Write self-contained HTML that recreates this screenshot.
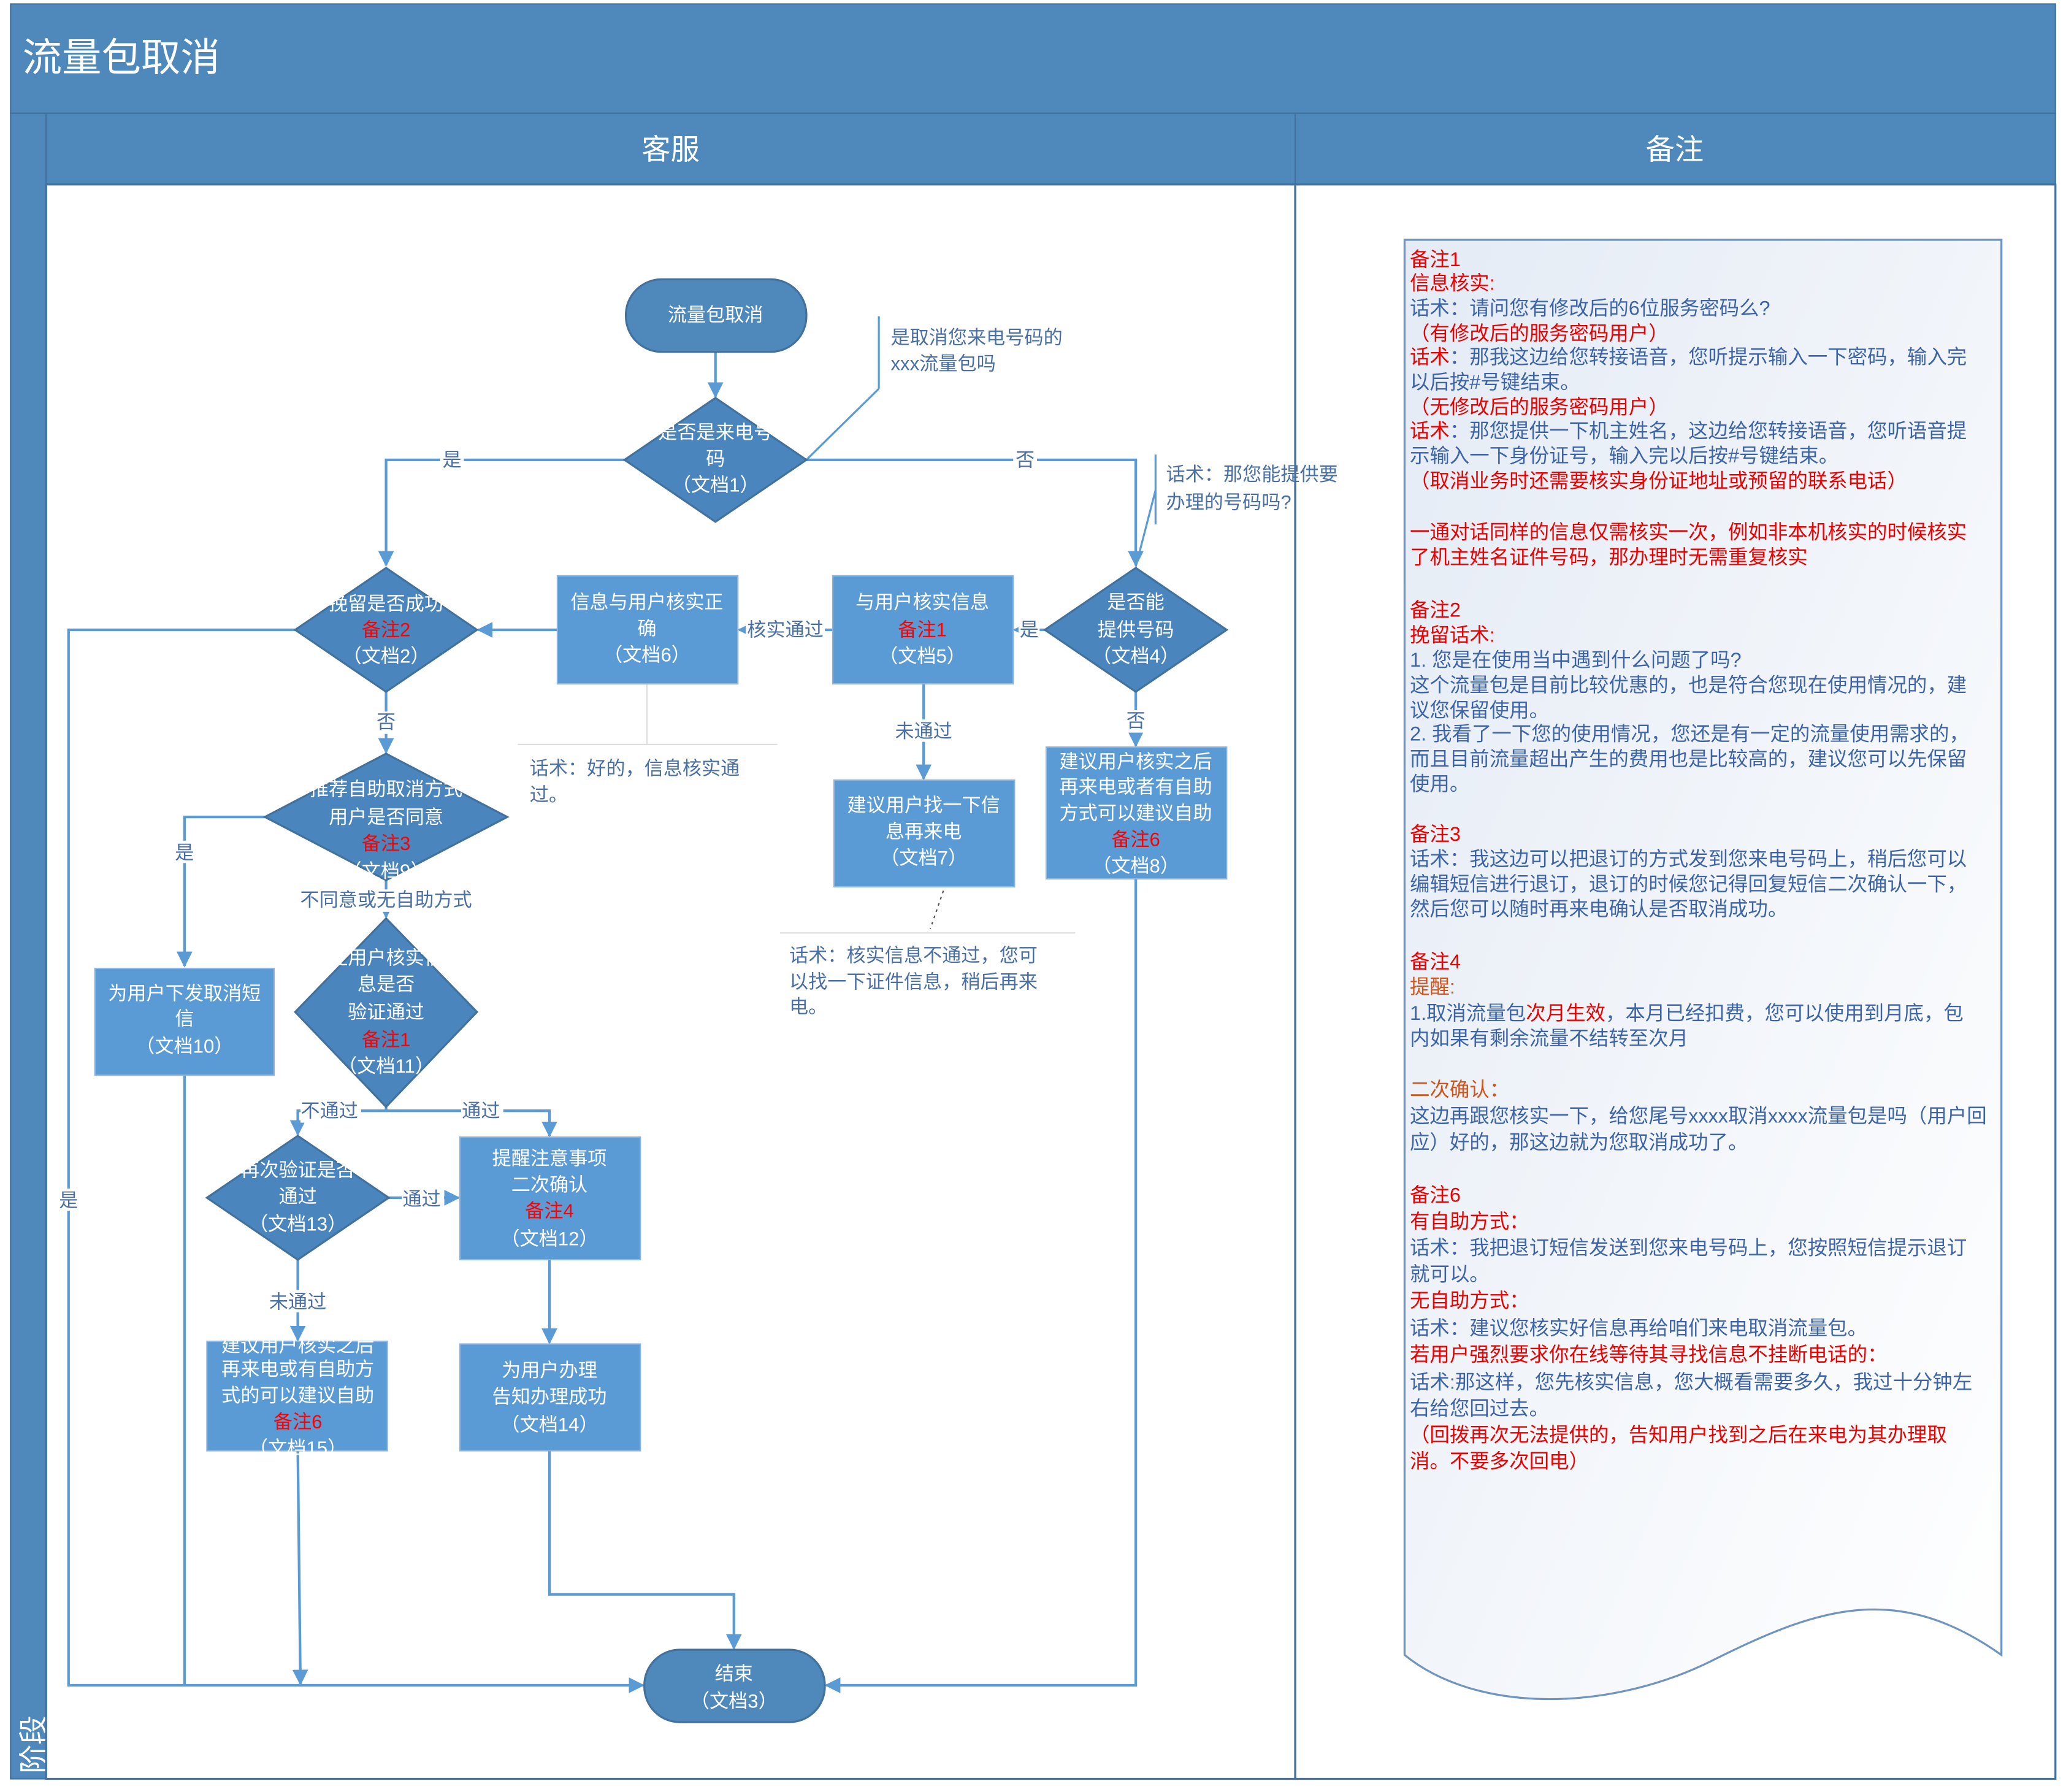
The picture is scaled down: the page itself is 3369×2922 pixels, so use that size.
<!DOCTYPE html>
<html><head><meta charset="utf-8"><style>
html,body{margin:0;padding:0;background:#fff}
svg{display:block}
text{font-family:"Liberation Sans","Noto Sans CJK SC",sans-serif}
.w{fill:#fff;font-size:14.5px;text-anchor:middle}
.r{fill:#ff0000}
.lb{fill:#4a6fa5;font-size:14.5px;text-anchor:middle}
.an{fill:#4a6fa5;font-size:14.5px}
.n{font-size:15.1px;fill:#3d64a8}
.n .rd{fill:#ee0000}
.n .or{fill:#d0541a}
.ln{stroke:#5b9bd5;stroke-width:2;fill:none}
</style></head><body>
<svg width="3369" height="2922" viewBox="0 0 1568 1360" xmlns="http://www.w3.org/2000/svg">
<defs>
<marker id="a" viewBox="0 0 10 10" refX="9" refY="5" markerWidth="6" markerHeight="6" orient="auto"><path d="M0,0L10,5L0,10z" fill="#5b9bd5"/></marker>
<linearGradient id="ng" x1="0" y1="0" x2="1" y2="1"><stop offset="0" stop-color="#e4ebf5"/><stop offset="1" stop-color="#ffffff"/></linearGradient>
</defs>
<rect x="0" y="0" width="1568" height="1360" fill="#fff"/>
<rect x="8" y="3" width="1552" height="83" fill="#4f88bb" stroke="#41719c"/>
<text x="17" y="54" style="font-size:30px;fill:#fff">流量包取消</text>
<rect x="8" y="86" width="27" height="1264" fill="#4f88bb" stroke="#41719c"/>
<text transform="translate(33,1346) rotate(-90)" style="font-size:22px;fill:#fff">阶段</text>
<rect x="35" y="86" width="948" height="54" fill="#4f88bb" stroke="#41719c"/>
<rect x="983" y="86" width="577" height="54" fill="#4f88bb" stroke="#41719c"/>
<text x="509" y="121" style="font-size:22px;fill:#fff;text-anchor:middle">客服</text>
<text x="1271" y="121" style="font-size:22px;fill:#fff;text-anchor:middle">备注</text>
<rect x="35" y="140" width="948" height="1210" fill="none" stroke="#41719c" stroke-width="1.5"/>
<rect x="983" y="140" width="577" height="1210" fill="none" stroke="#41719c" stroke-width="1.5"/>

<path d="M1066,182 H1519 V1256 C1440,1200 1380,1220 1300,1260 C1220,1300 1120,1300 1066,1256 Z" fill="url(#ng)" stroke="#6f94c0" stroke-width="1.5"/>
<g class="n">
<text x="1070" y="202" class="rd">备注1</text>
<text x="1070" y="220" class="rd">信息核实:</text>
<text x="1070" y="239">话术：请问您有修改后的6位服务密码么?</text>
<text x="1070" y="258" class="rd">（有修改后的服务密码用户）</text>
<text x="1070" y="276"><tspan class="rd">话术</tspan>：那我这边给您转接语音，您听提示输入一下密码，输入完</text>
<text x="1070" y="295">以后按#号键结束。</text>
<text x="1070" y="314" class="rd">（无修改后的服务密码用户）</text>
<text x="1070" y="332"><tspan class="rd">话术</tspan>：那您提供一下机主姓名，这边给您转接语音，您听语音提</text>
<text x="1070" y="351">示输入一下身份证号，输入完以后按#号键结束。</text>
<text x="1070" y="370" class="rd">（取消业务时还需要核实身份证地址或预留的联系电话）</text>
<text x="1070" y="409" class="rd">一通对话同样的信息仅需核实一次，例如非本机核实的时候核实</text>
<text x="1070" y="428" class="rd">了机主姓名证件号码，那办理时无需重复核实</text>
<text x="1070" y="468" class="rd">备注2</text>
<text x="1070" y="487" class="rd">挽留话术:</text>
<text x="1070" y="506">1. 您是在使用当中遇到什么问题了吗?</text>
<text x="1070" y="525">这个流量包是目前比较优惠的，也是符合您现在使用情况的，建</text>
<text x="1070" y="544">议您保留使用。</text>
<text x="1070" y="562">2. 我看了一下您的使用情况，您还是有一定的流量使用需求的，</text>
<text x="1070" y="581">而且目前流量超出产生的费用也是比较高的，建议您可以先保留</text>
<text x="1070" y="600">使用。</text>
<text x="1070" y="638" class="rd">备注3</text>
<text x="1070" y="657">话术：我这边可以把退订的方式发到您来电号码上，稍后您可以</text>
<text x="1070" y="676">编辑短信进行退订，退订的时候您记得回复短信二次确认一下，</text>
<text x="1070" y="695">然后您可以随时再来电确认是否取消成功。</text>
<text x="1070" y="735" class="rd">备注4</text>
<text x="1070" y="754" class="or">提醒:</text>
<text x="1070" y="774">1.取消流量包<tspan class="rd">次月生效</tspan>，本月已经扣费，您可以使用到月底，包</text>
<text x="1070" y="793">内如果有剩余流量不结转至次月</text>
<text x="1070" y="832" class="or">二次确认：</text>
<text x="1070" y="852">这边再跟您核实一下，给您尾号xxxx取消xxxx流量包是吗（用户回</text>
<text x="1070" y="872">应）好的，那这边就为您取消成功了。</text>
<text x="1070" y="912" class="rd">备注6</text>
<text x="1070" y="932" class="rd">有自助方式：</text>
<text x="1070" y="952">话术：我把退订短信发送到您来电号码上，您按照短信提示退订</text>
<text x="1070" y="972">就可以。</text>
<text x="1070" y="992" class="rd">无自助方式：</text>
<text x="1070" y="1013">话术：建议您核实好信息再给咱们来电取消流量包。</text>
<text x="1070" y="1033" class="rd">若用户强烈要求你在线等待其寻找信息不挂断电话的：</text>
<text x="1070" y="1054">话术:那这样，您先核实信息，您大概看需要多久，我过十分钟左</text>
<text x="1070" y="1074">右给您回过去。</text>
<text x="1070" y="1094" class="rd">（回拨再次无法提供的，告知用户找到之后在来电为其办理取</text>
<text x="1070" y="1114" class="rd">消。不要多次回电）</text>
</g>

<g class="ln">
<path d="M543,267V301" marker-end="url(#a)"/>
<path d="M474,349H293V429" marker-end="url(#a)"/>
<path d="M612,349H862V429" marker-end="url(#a)"/>
<path d="M793,478H770" marker-end="url(#a)"/>
<path d="M632,478H561" marker-end="url(#a)"/>
<path d="M423,478H363" marker-end="url(#a)"/>
<path d="M862,525V566" marker-end="url(#a)"/>
<path d="M701,519V591" marker-end="url(#a)"/>
<path d="M293,525V571" marker-end="url(#a)"/>
<path d="M201,620H140V733" marker-end="url(#a)"/>
<path d="M293,668V696" marker-end="url(#a)"/>
<path d="M293,840V843H226V861" marker-end="url(#a)"/>
<path d="M293,843H417V862" marker-end="url(#a)"/>
<path d="M295,909H348" marker-end="url(#a)"/>
<path d="M226,956V1017" marker-end="url(#a)"/>
<path d="M417,956V1019" marker-end="url(#a)"/>
<path d="M417,1101V1210H557V1251" marker-end="url(#a)"/>
<path d="M226,1101L228,1278" marker-end="url(#a)"/>
<path d="M224,478H52V1279H488" marker-end="url(#a)"/>
<path d="M140,816V1279"/>
<path d="M862,667V1279H627" marker-end="url(#a)"/>
</g>
<g class="lb">
<rect x="334" y="340" width="18" height="17" fill="#fff"/><text x="343" y="354">是</text>
<rect x="769" y="340" width="18" height="17" fill="#fff"/><text x="778" y="354">否</text>
<rect x="773" y="470" width="16" height="17" fill="#fff"/><text x="781" y="483">是</text>
<rect x="566" y="470" width="60" height="17" fill="#fff"/><text x="596" y="483">核实通过</text>
<rect x="853" y="539" width="18" height="17" fill="#fff"/><text x="862" y="552">否</text>
<rect x="676" y="546" width="50" height="17" fill="#fff"/><text x="701" y="560">未通过</text>
<rect x="284" y="540" width="18" height="17" fill="#fff"/><text x="293" y="553">否</text>
<rect x="131" y="638" width="18" height="17" fill="#fff"/><text x="140" y="652">是</text>
<rect x="223" y="675" width="140" height="17" fill="#fff"/><text x="293" y="688">不同意或无自助方式</text>
<rect x="228" y="835" width="46" height="17" fill="#fff"/><text x="250" y="848">不通过</text>
<rect x="350" y="835" width="32" height="17" fill="#fff"/><text x="365" y="848">通过</text>
<rect x="305" y="901" width="32" height="17" fill="#fff"/><text x="320" y="915">通过</text>
<rect x="201" y="979" width="50" height="17" fill="#fff"/><text x="226" y="993">未通过</text>
<rect x="43" y="902" width="18" height="17" fill="#fff"/><text x="52" y="916">是</text>
</g>

<g stroke="#5b9bd5" stroke-width="1.5" fill="none">
<path d="M612,349L667,295"/><path d="M667,240V295"/>
<path d="M877,345V398"/><path d="M877,372L862,430"/>
</g>
<text x="676" y="261" class="an">是取消您来电号码的</text>
<text x="676" y="281" class="an">xxx流量包吗</text>
<text x="885" y="365" class="an">话术：那您能提供要</text>
<text x="885" y="386" class="an">办理的号码吗?</text>
<path d="M491,519V565M393,565H590" stroke="#ddd" stroke-width="1" fill="none"/>
<text x="402" y="588" class="an">话术：好的，信息核实通</text>
<text x="402" y="608" class="an">过。</text>
<path d="M716,676L706,705" stroke="#555" stroke-width="1" stroke-dasharray="2,3" fill="none"/>
<path d="M592,708H816" stroke="#ddd" stroke-width="1" fill="none"/>
<text x="599" y="730" class="an">话术：核实信息不通过，您可</text>
<text x="599" y="750" class="an">以找一下证件信息，稍后再来</text>
<text x="599" y="769" class="an">电。</text>

<g stroke="#41719c" stroke-width="1.5">
<rect x="475" y="212" width="137" height="55" rx="27" fill="#4f88bb"/>
<rect x="489" y="1252" width="137" height="55" rx="27" fill="#4f88bb"/>
<polygon points="543,302 612,349 543,396 474,349" fill="#4a86bd"/>
<polygon points="293,431 362,478 293,525 224,478" fill="#4a86bd"/>
<polygon points="862,431 931,478 862,525 793,478" fill="#4a86bd"/>
<polygon points="293,572 385,620 293,668 201,620" fill="#4a86bd"/>
<polygon points="293,697 362,768 293,840 224,768" fill="#4a86bd"/>
<polygon points="226,862 295,909 226,956 157,909" fill="#4a86bd"/>
</g>
<g fill="#5b9bd5" stroke="#8fb4de" stroke-width="1">
<rect x="423" y="437" width="137" height="82"/>
<rect x="632" y="437" width="137" height="82"/>
<rect x="794" y="567" width="137" height="100"/>
<rect x="633" y="592" width="137" height="81"/>
<rect x="72" y="735" width="136" height="81"/>
<rect x="349" y="863" width="137" height="93"/>
<rect x="157" y="1018" width="137" height="83"/>
<rect x="349" y="1020" width="137" height="81"/>
</g>
<g class="w">
<text x="543" y="244">流量包取消</text>
<text x="557" y="1275">结束</text><text x="557" y="1296">（文档3）</text>
<text x="543" y="333">是否是来电号</text><text x="543" y="353">码</text><text x="543" y="373">（文档1）</text>
<text x="293" y="463">挽留是否成功</text><text x="293" y="483" class="r">备注2</text><text x="293" y="503">（文档2）</text>
<text x="491" y="462">信息与用户核实正</text><text x="491" y="482">确</text><text x="491" y="502">（文档6）</text>
<text x="700" y="462">与用户核实信息</text><text x="700" y="483" class="r">备注1</text><text x="700" y="503">（文档5）</text>
<text x="862" y="462">是否能</text><text x="862" y="483">提供号码</text><text x="862" y="503">（文档4）</text>
<text x="862" y="583">建议用户核实之后</text><text x="862" y="602">再来电或者有自助</text><text x="862" y="622">方式可以建议自助</text><text x="862" y="642" class="r">备注6</text><text x="862" y="662">（文档8）</text>
<text x="701" y="616">建议用户找一下信</text><text x="701" y="636">息再来电</text><text x="701" y="656">（文档7）</text>
<text x="293" y="604">推荐自助取消方式</text><text x="293" y="625">用户是否同意</text><text x="293" y="645" class="r">备注3</text><text x="293" y="666">（文档9）</text>
<text x="140" y="759">为用户下发取消短</text><text x="140" y="778">信</text><text x="140" y="799">（文档10）</text>
<text x="293" y="732">让用户核实信</text><text x="293" y="752">息是否</text><text x="293" y="773">验证通过</text><text x="293" y="794" class="r">备注1</text><text x="293" y="814">（文档11）</text>
<text x="226" y="893">再次验证是否</text><text x="226" y="913">通过</text><text x="226" y="934">（文档13）</text>
<text x="417" y="884">提醒注意事项</text><text x="417" y="904">二次确认</text><text x="417" y="924" class="r">备注4</text><text x="417" y="945">（文档12）</text>
<text x="226" y="1026">建议用户核实之后</text><text x="226" y="1044">再来电或有自助方</text><text x="226" y="1064">式的可以建议自助</text><text x="226" y="1084" class="r">备注6</text><text x="226" y="1104">（文档15）</text>
<text x="417" y="1045">为用户办理</text><text x="417" y="1065">告知办理成功</text><text x="417" y="1086">（文档14）</text>
</g>
</svg>
</body></html>
